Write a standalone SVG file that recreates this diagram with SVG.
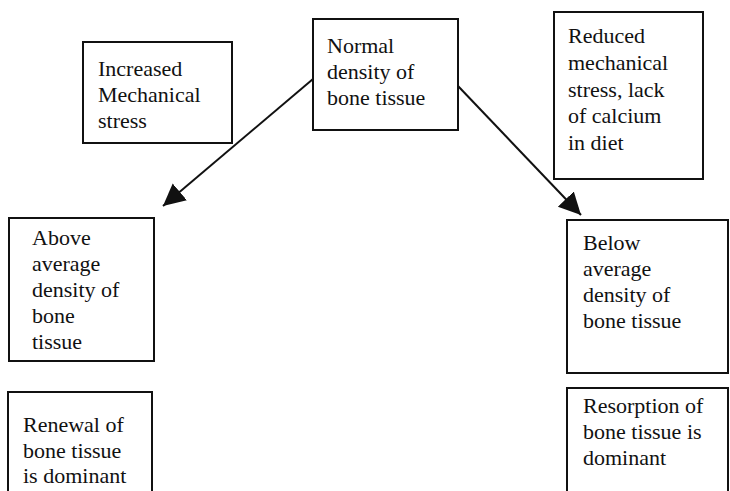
<svg xmlns="http://www.w3.org/2000/svg" width="730" height="491" viewBox="0 0 730 491">
<style>
.box{fill:#fff;stroke:#111;stroke-width:2}
.t{font-family:"Liberation Serif","Times New Roman",serif;font-size:22px;fill:#111}
.c{stroke:#111;stroke-width:2;fill:none}
</style>
<defs>
<marker id="ah" markerUnits="userSpaceOnUse" markerWidth="24" markerHeight="24" refX="22" refY="11" orient="auto">
<path d="M0,0 L22,11 L0,22 z" fill="#111"/>
</marker>
</defs>
<rect width="730" height="491" fill="#fff"/>
<g id="connectors">
<line class="c" x1="313" y1="79" x2="163" y2="206" marker-end="url(#ah)"/>
<line class="c" x1="458" y1="86" x2="581" y2="215" marker-end="url(#ah)"/>
</g>
<g id="increased">
<rect class="box" x="83" y="42" width="149" height="101"/>
<text class="t" x="98" y="76">Increased</text>
<text class="t" x="98" y="102">Mechanical</text>
<text class="t" x="98" y="128">stress</text>
</g>
<g id="normal">
<rect class="box" x="313" y="19" width="145" height="111"/>
<text class="t" x="327" y="53">Normal</text>
<text class="t" x="327" y="79">density of</text>
<text class="t" x="327" y="105">bone tissue</text>
</g>
<g id="reduced">
<rect class="box" x="554" y="12" width="149" height="167"/>
<text class="t" x="568" y="43">Reduced</text>
<text class="t" x="568" y="70">mechanical</text>
<text class="t" x="568" y="97">stress, lack</text>
<text class="t" x="568" y="123">of calcium</text>
<text class="t" x="568" y="150">in diet</text>
</g>
<g id="above">
<rect class="box" x="9" y="218" width="145" height="143"/>
<text class="t" x="32" y="245">Above</text>
<text class="t" x="32" y="271">average</text>
<text class="t" x="32" y="297">density of</text>
<text class="t" x="32" y="323">bone</text>
<text class="t" x="32" y="349">tissue</text>
</g>
<g id="below">
<rect class="box" x="567" y="220" width="161" height="153"/>
<text class="t" x="583" y="250">Below</text>
<text class="t" x="583" y="276">average</text>
<text class="t" x="583" y="302">density of</text>
<text class="t" x="583" y="328">bone tissue</text>
</g>
<g id="renewal">
<rect class="box" x="8" y="392" width="144" height="110"/>
<text class="t" x="23" y="432">Renewal of</text>
<text class="t" x="23" y="458">bone tissue</text>
<text class="t" x="23" y="483">is dominant</text>
</g>
<g id="resorption">
<rect class="box" x="567" y="388" width="161" height="114"/>
<text class="t" x="583" y="413">Resorption of</text>
<text class="t" x="583" y="439">bone tissue is</text>
<text class="t" x="583" y="465">dominant</text>
</g>
</svg>
